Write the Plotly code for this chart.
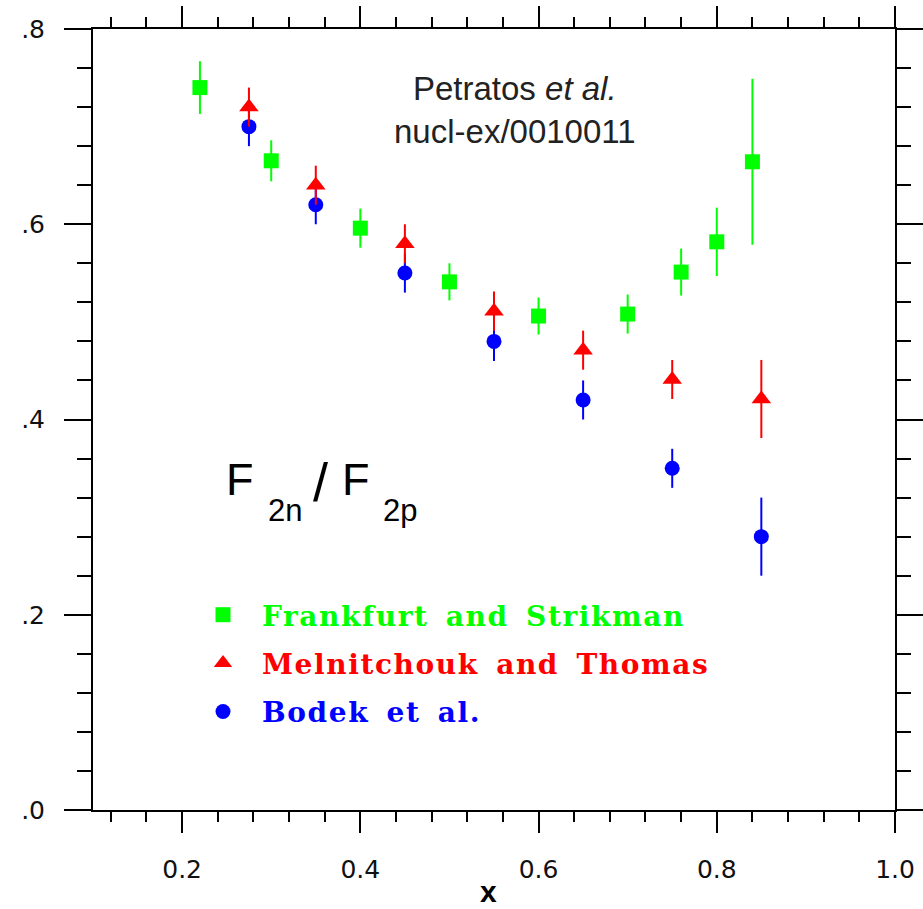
import plotly.graph_objects as go

# ---- data ----
fs_x = [0.22, 0.30, 0.40, 0.50, 0.60, 0.70, 0.76, 0.80, 0.84]
fs_y = [0.740, 0.665, 0.596, 0.541, 0.506, 0.508, 0.551, 0.582, 0.664]
fs_err = [0.027, 0.021, 0.020, 0.019, 0.019, 0.020, 0.024, 0.035, 0.085]

mt_x = [0.275, 0.35, 0.45, 0.55, 0.65, 0.75, 0.85]
mt_y = [0.720, 0.640, 0.580, 0.511, 0.471, 0.441, 0.421]
mt_err = [0.020, 0.020, 0.020, 0.020, 0.020, 0.020, 0.040]

bo_x = [0.275, 0.35, 0.45, 0.55, 0.65, 0.75, 0.85]
bo_y = [0.700, 0.620, 0.550, 0.480, 0.420, 0.350, 0.280]
bo_err = [0.020, 0.020, 0.020, 0.020, 0.020, 0.020, 0.040]

series_names = ["Frankfurt and Strikman", "Melnitchouk and Thomas", "Bodek et al."]
y_tick_vals = [0.0, 0.2, 0.4, 0.6, 0.8]
y_tick_text = [".0", ".2", ".4", ".6", ".8"]

GREEN, RED, BLUE = "#00ff00", "#ff0000", "#0000ff"

fig = go.Figure()

def add(x, y, e, name, color, symbol, size, rank):
    fig.add_trace(go.Scatter(
        x=x, y=y, mode="markers",
        name=f"<span style='color:{color};letter-spacing:1.6px;word-spacing:6px'>{name}</span>",
        legendgroup=name, legendrank=rank,
        marker=dict(symbol=symbol, size=size, color=color, line=dict(width=0)),
        error_y=dict(type="data", array=e, visible=True, color=color,
                     thickness=2, width=0),
    ))

add(bo_x, bo_y, bo_err, series_names[2], BLUE, "circle", 15, 3)
add(mt_x, mt_y, mt_err, series_names[1], RED, "triangle-up", 17, 2)
add(fs_x, fs_y, fs_err, series_names[0], GREEN, "square", 15, 1)

L, R, T, B = 93, 28, 29, 99
W, H = 923, 909
pw, ph = W - L - R, H - T - B

def px(xpix):
    return (xpix - L) / pw

def py(ypix):
    return (H - B - ypix) / ph

axis_common = dict(showline=True, linecolor="black", linewidth=2, mirror="ticks",
                   ticks="outside", tickcolor="black", tickwidth=2,
                   showgrid=False, zeroline=False, automargin=False)

fig.update_xaxes(range=[0.1, 1.0], tickmode="linear", tick0=0.2, dtick=0.2,
                 tickformat=".1f", ticklen=21, ticklabelstandoff=15,
                 minor=dict(tickmode="linear", tick0=0.0, dtick=0.04, ticklen=10,
                            tickcolor="black", tickwidth=2, ticks="outside"),
                 tickfont=dict(family="DejaVu Sans", size=25, color="#111"),
                 **axis_common)
fig.update_yaxes(range=[0.0, 0.8], tickmode="array", tickvals=y_tick_vals, ticktext=y_tick_text,
                 ticklen=27, ticklabelstandoff=14,
                 minor=dict(tickmode="linear", tick0=0.0, dtick=0.04, ticklen=14,
                            tickcolor="black", tickwidth=2, ticks="outside"),
                 tickfont=dict(family="DejaVu Sans", size=25, color="#111"),
                 **axis_common)

ann = []
ann.append(dict(text="Petratos <i>et al.</i><br>nucl-ex/0010011", x=px(515), y=py(110),
                xref="paper", yref="paper", xanchor="center", yanchor="middle",
                showarrow=False, font=dict(family="Liberation Sans", size=33, color="#222")))
# x-axis title
ann.append(dict(text="<b>x</b>", x=px(488), y=py(891), xref="paper", yref="paper",
                xanchor="center", yanchor="middle", showarrow=False, borderpad=0,
                font=dict(family="Liberation Sans", size=30, color="black")))
big = dict(family="Liberation Sans", size=45, color="black")
slash = dict(family="Liberation Sans", size=54, color="black")
small = dict(family="Liberation Sans", size=31, color="black")
for txt, xl, yc, f in [("F", 224.5, 479.5, big), ("2n", 267, 510.5, small), ("/", 312, 482, slash),
                       ("F", 341, 479.5, big), ("2p", 382, 510.5, small)]:
    ann.append(dict(text=txt, x=px(xl), y=py(yc), xref="paper", yref="paper",
                    xanchor="left", yanchor="middle", showarrow=False, font=f, borderpad=0))

fig.update_layout(
    template="none",
    width=W, height=H, margin=dict(l=L, r=R, t=T, b=B, pad=0, autoexpand=False),
    plot_bgcolor="white", paper_bgcolor="white",
    showlegend=True,
    legend=dict(x=px(184), y=py(590), xanchor="left", yanchor="top",
                bgcolor="rgba(0,0,0,0)", borderwidth=0,
                font=dict(family="DejaVu Serif", size=28, weight="bold"),
                itemwidth=68, traceorder="grouped", tracegroupgap=9,
                itemclick=False),
    annotations=ann,
)

fig.write_html("out.html")
